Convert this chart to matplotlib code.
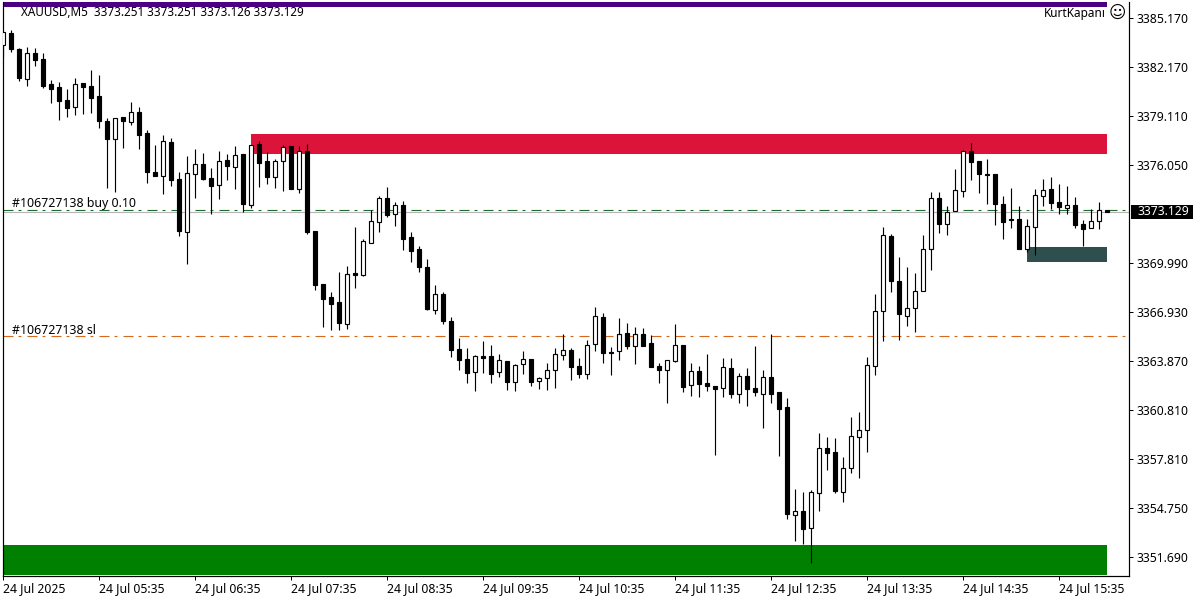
import matplotlib
matplotlib.use('Agg')
from matplotlib import pyplot as plt
from matplotlib.patches import Rectangle

# M5 candles, oldest first
opens = [3383.55,3384.29,3383.30,3381.42,3383.04,3382.67,3381.11,3380.92,3380.11,3379.67,
         3381.17,3380.98,3380.36,3378.80,3377.67,3379.05,3378.74,3379.36,3378.05,3375.62,
         3375.36,3377.49,3375.17,3371.87,3375.49,3376.11,3375.24,3374.80,3376.36,3375.92,
         3376.74,3373.55,3377.36,3376.30,3375.30,3376.30,3377.24,3374.55,3376.92,3371.93,
         3368.62,3367.81,3367.49,3366.12,3369.30,3369.18,3371.18,3372.49,3373.99,3372.99,
         3373.55,3371.56,3370.80,3369.68,3366.99,3367.99,3366.31,3364.56,3363.93,3363.12,
         3364.12,3364.12,3363.12,3363.81,3362.50,3363.62,3363.93,3362.56,3362.75,3363.25,
         3364.19,3364.50,3363.50,3363.00,3364.87,3366.56,3364.37,3364.44,3365.56,3364.75,
         3365.50,3364.94,3363.50,3363.25,3363.81,3364.81,3362.31,3363.18,3362.43,3362.25,
         3362.12,3363.37,3361.75,3362.87,3362.12,3361.75,3362.81,3361.87,3360.93,3354.19,
         3354.44,3353.38,3355.56,3358.38,3358.13,3355.63,3357.13,3359.06,3359.50,3363.50,
         3366.93,3371.62,3368.81,3366.62,3367.12,3368.18,3370.80,3373.99,3372.37,3373.18,
         3374.42,3376.92,3376.30,3375.49,3375.49,3373.61,3372.68,3372.68,3370.80,3372.18,
         3374.11,3374.55,3373.74,3373.36,3373.55,3372.37,3372.12,3372.55,3373.251]
closes = [3384.36,3383.30,3381.48,3383.04,3382.61,3380.98,3380.80,3380.05,3379.61,3381.11,
          3380.92,3380.23,3378.80,3377.67,3378.98,3378.80,3379.36,3377.93,3375.62,3375.36,
          3377.55,3375.11,3371.93,3375.55,3376.11,3375.17,3374.74,3376.30,3375.99,3376.68,
          3373.61,3377.30,3376.17,3375.30,3376.30,3377.17,3374.55,3376.92,3371.87,3368.56,
          3367.68,3367.37,3366.18,3369.24,3369.18,3371.31,3372.55,3373.99,3372.93,3373.55,
          3371.43,3370.68,3369.68,3367.05,3367.99,3366.31,3364.50,3363.87,3363.06,3364.12,
          3363.99,3363.00,3363.87,3362.50,3363.56,3363.93,3362.50,3362.75,3363.25,3364.25,
          3364.50,3363.44,3363.00,3364.81,3366.62,3364.31,3364.31,3365.50,3364.75,3365.50,
          3364.75,3363.44,3363.25,3363.87,3364.81,3362.18,3363.18,3362.37,3362.25,3362.06,
          3363.44,3361.75,3362.87,3362.06,3361.87,3362.81,3361.75,3360.81,3354.25,3354.44,
          3353.32,3355.63,3358.38,3358.06,3355.69,3357.13,3359.13,3359.50,3363.56,3366.93,
          3371.68,3368.81,3366.74,3367.12,3368.18,3370.80,3373.99,3372.37,3373.11,3374.49,
          3376.92,3376.24,3375.49,3375.43,3373.61,3372.49,3372.62,3370.80,3372.24,3374.18,
          3374.49,3373.67,3373.43,3373.55,3372.30,3372.05,3372.55,3373.24,3373.129]
highs = [3384.36,3384.48,3383.36,3383.42,3383.36,3383.04,3381.36,3381.24,3380.80,3381.48,
         3381.17,3381.98,3381.67,3378.98,3378.98,3379.05,3379.98,3379.67,3378.24,3377.30,
         3377.93,3377.74,3375.62,3376.61,3377.05,3376.80,3375.86,3376.92,3376.74,3377.24,
         3376.74,3377.30,3377.55,3376.86,3376.42,3377.30,3377.24,3377.24,3377.36,3371.93,
         3368.62,3368.12,3369.37,3369.74,3372.18,3371.43,3373.24,3374.11,3374.67,3373.74,
         3373.80,3371.87,3370.99,3370.18,3368.56,3368.12,3366.56,3365.25,3364.62,3364.19,
         3365.06,3364.81,3364.25,3363.81,3363.62,3364.44,3363.93,3362.81,3363.68,3364.62,
         3365.50,3364.62,3363.99,3365.12,3367.18,3366.81,3364.69,3366.49,3366.18,3365.93,
         3365.87,3365.44,3363.68,3363.87,3366.12,3364.81,3363.68,3363.50,3364.25,3362.25,
         3363.99,3363.99,3363.06,3363.37,3364.75,3363.25,3365.50,3361.87,3361.49,3355.82,
         3355.63,3355.75,3359.31,3359.06,3359.00,3357.81,3360.31,3360.62,3364.06,3367.99,
         3372.18,3371.74,3370.30,3369.68,3369.30,3371.68,3374.36,3374.36,3373.49,3375.80,
         3376.99,3377.42,3376.30,3376.42,3375.49,3374.11,3374.61,3373.49,3372.68,3374.55,
         3375.17,3375.30,3374.86,3374.74,3374.05,3372.62,3373.30,3373.74,3373.251]
lows = [3382.79,3383.11,3381.30,3380.98,3382.24,3380.86,3379.92,3378.86,3379.05,3379.17,
        3379.23,3379.29,3378.36,3374.61,3374.36,3377.11,3378.55,3377.05,3374.92,3375.36,
        3374.24,3374.74,3371.62,3369.87,3373.99,3375.11,3372.99,3373.92,3375.11,3374.55,
        3373.11,3373.36,3374.67,3374.86,3374.61,3374.42,3374.55,3374.30,3371.74,3368.24,
        3365.93,3365.75,3365.75,3365.81,3368.37,3369.12,3371.18,3371.87,3372.80,3372.24,
        3370.74,3369.99,3369.37,3366.99,3366.74,3366.12,3364.06,3363.25,3362.43,3361.94,
        3363.06,3362.43,3362.81,3362.00,3361.94,3363.00,3362.25,3362.06,3362.00,3362.12,
        3363.87,3362.62,3362.75,3362.68,3364.44,3363.68,3362.93,3363.87,3364.56,3363.62,
        3364.75,3363.44,3362.43,3361.18,3363.75,3361.87,3361.62,3361.56,3361.94,3357.94,
        3361.56,3361.50,3361.18,3361.00,3361.62,3359.62,3361.18,3357.88,3353.94,3352.57,
        3352.38,3351.19,3354.44,3357.00,3355.56,3355.01,3356.81,3356.50,3358.13,3362.93,
        3365.06,3368.12,3365.12,3365.99,3365.62,3368.18,3369.49,3371.80,3371.68,3373.18,
        3374.05,3375.11,3374.30,3373.61,3372.30,3371.43,3372.12,3370.80,3370.62,3370.43,
        3373.49,3373.30,3372.99,3372.99,3372.12,3370.99,3372.12,3372.05,3373.126]

# zones: first bar, last bar, top price, bottom price, colour
supply_zone = [31, 138, 3377.99, 3376.74, '#DC143C']
small_zone = [128, 138, 3370.93, 3369.99, '#2F4F4F']
demand_zone = [0, 138, 3352.32, 3350.45, '#008000']
top_bar = [0, 138, 3386.23, 3385.92, '#4B0082']

entry_price = 3373.22
stop_price = 3365.35
last_price = 3373.129

price_ticks = [3385.23,3382.17,3379.11,3376.05,3369.93,3366.87,3363.81,3360.75,3357.69,3354.63,3351.57]
price_labels = ['3385.170','3382.170','3379.110','3376.050','3369.990','3366.930',
                '3363.870','3360.810','3357.810','3354.750','3351.690']
time_ticks = [0,12,24,36,48,60,72,84,96,108,120,132]
time_labels = ['24 Jul 2025','24 Jul 05:35','24 Jul 06:35','24 Jul 07:35','24 Jul 08:35','24 Jul 09:35',
               '24 Jul 10:35','24 Jul 11:35','24 Jul 12:35','24 Jul 13:35','24 Jul 14:35','24 Jul 15:35']

W, H = 1200, 600
PX = 0.72  # one pixel in points at dpi 100
plt.rcParams['font.family'] = ['Noto Sans', 'DejaVu Sans']
plt.rcParams['lines.scale_dashes'] = False
FS = 8.8

fig = plt.figure(figsize=(12, 6), dpi=100, facecolor='white')
ax = fig.add_axes([2.5/W, 1-576/H, (1129-2.5)/W, (576-2)/H])
ax.set_xlim(-0.1, 140.7)
ax.set_ylim(3350.38, 3386.23)

for z in [supply_zone, small_zone, demand_zone, top_bar]:
    ax.add_patch(Rectangle((z[0], z[3]), z[1]-z[0], z[2]-z[3], facecolor=z[4], edgecolor='none', zorder=1))

dash = (0, (10*PX, 5*PX, 3*PX, 6*PX))
ax.axhline(last_price, color='#b4b4b4', lw=PX*1.1, zorder=2)
ax.axhline(entry_price, color='#1f6b2e', lw=PX*1.1, ls=dash, zorder=2)
ax.axhline(stop_price, color='#d2691e', lw=PX*1.1, ls=dash, zorder=2)

xs = list(range(len(opens)))
ax.vlines(xs, lows, highs, color='black', lw=PX*1.15, zorder=3)
for i in xs:
    bottom = min(opens[i], closes[i])
    up = closes[i] > opens[i]
    ax.bar(i, abs(closes[i]-opens[i]), bottom=bottom, width=0.5, facecolor='white' if up else 'black',
           edgecolor='black', lw=PX*1.15, zorder=4)

for s in ['top']:
    ax.spines[s].set_visible(False)
for s in ['left', 'right', 'bottom']:
    ax.spines[s].set_linewidth(PX*1.2)
ax.yaxis.tick_right()
ax.set_yticks(price_ticks)
ax.set_yticklabels(price_labels, fontsize=FS)
ax.set_xticks(time_ticks)
ax.set_xticklabels(time_labels, fontsize=FS, ha='left')
ax.tick_params(axis='y', length=4*PX, width=PX, pad=2.6)
ax.tick_params(axis='x', length=4*PX, width=PX, pad=1.8)

def put(x, y, s, **kw):
    fig.text(x/W, 1-y/H, s, va='center', fontsize=kw.pop('fontsize', FS), **kw)

put(21, 12, 'XAUUSD,M5  3373.251 3373.251 3373.126 3373.129', fontsize=8.45)
put(12, 203.5, '#106727138 buy 0.10', fontsize=8.9)
put(12, 330, '#106727138 sl', fontsize=8.9)
put(1106, 13.5, 'KurtKapanı', ha='right', fontsize=8.5)
put(1117, 13, '\u263a', ha='center', fontsize=12, family='DejaVu Sans')

# price tag for the last quote
fig.add_artist(Rectangle((1131/W, 1-219/H), 62/W, 14/H, transform=fig.transFigure, facecolor='black', edgecolor='none'))
put(1137, 212, '3373.129', color='white')

fig.savefig('out.png', dpi=100)
